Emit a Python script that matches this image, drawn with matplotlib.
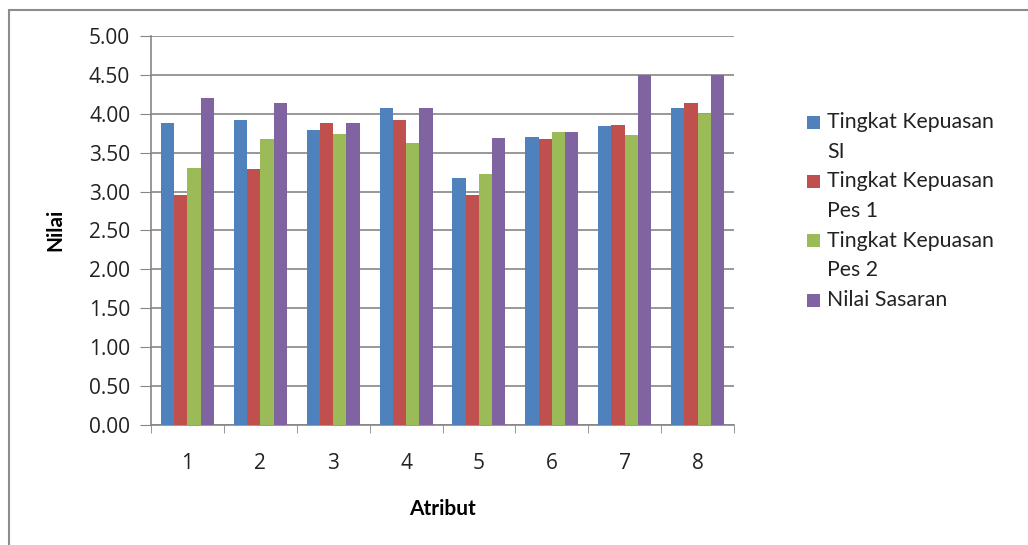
import matplotlib
matplotlib.use("Agg")
import matplotlib.pyplot as plt
import numpy as np
from matplotlib.patches import Rectangle

categories = ["1", "2", "3", "4", "5", "6", "7", "8"]
series_names = ["Tingkat Kepuasan\nSI", "Tingkat Kepuasan\nPes 1", "Tingkat Kepuasan\nPes 2", "Nilai Sasaran"]
kepuasan_si = [3.88, 3.92, 3.79, 4.08, 3.17, 3.70, 3.84, 4.07]
kepuasan_pes1 = [2.96, 3.29, 3.88, 3.92, 2.96, 3.67, 3.86, 4.14]
kepuasan_pes2 = [3.30, 3.67, 3.74, 3.62, 3.22, 3.76, 3.73, 4.00]
nilai_sasaran = [4.20, 4.14, 3.88, 4.08, 3.69, 3.76, 4.50, 4.50]
colors = ["#4F81BD", "#C0504D", "#9BBB59", "#8064A2"]
y_ticks = [0.0, 0.5, 1.0, 1.5, 2.0, 2.5, 3.0, 3.5, 4.0, 4.5, 5.0]

plt.rcParams['font.family'] = ['Lato', 'DejaVu Sans']
tick_font = 'Open Sans'
W, H = 1028, 545

fig = plt.figure(figsize=(W/100, H/100), dpi=100)
# outer chart frame
fig.patches.append(Rectangle((9/W, -0.1), 1.2, 1.1 - 10/H, transform=fig.transFigure,
                             fill=False, edgecolor="#8c8c8c", linewidth=1.5))

ax = fig.add_axes([151/W, 1-425/H, (734-151)/W, (425-36)/H])
series = [kepuasan_si, kepuasan_pes1, kepuasan_pes2, nilai_sasaran]
x = np.arange(len(categories))
bw = 1/5.5
for i, (vals, c) in enumerate(zip(series, colors)):
    ax.bar(x + (i - 1.5) * bw, vals, width=bw, color=c, zorder=3, linewidth=0)

ax.set_xlim(-0.5, len(categories) - 0.5)
ax.set_ylim(0, 5)
ax.set_yticks(y_ticks)
ax.set_yticklabels([f"{v:.2f}" for v in y_ticks], fontfamily=tick_font, color="#222222")
ax.yaxis.grid(True, color="#868686", linewidth=1.2, zorder=0)
ax.set_xticks(x)
ax.set_xticklabels(categories, fontfamily=tick_font, color="#222222")
ax.set_xticks(np.arange(-0.5, len(categories)), minor=True)
ax.tick_params(axis='x', which='major', length=0, pad=20, labelsize=15)
ax.tick_params(axis='x', which='minor', length=6, color="#868686", direction='out')
ax.tick_params(axis='y', length=8, color="#868686", labelsize=15, pad=7)
for s in ["top", "right"]:
    ax.spines[s].set_visible(False)
for s in ["left", "bottom"]:
    ax.spines[s].set_color("#868686")
    ax.spines[s].set_linewidth(1.2)

fig.text(55/W, 1-230/H, "Nilai", rotation=90, ha="center", va="center",
         fontsize=15, fontweight="bold")
ax.set_xlabel("Atribut", fontsize=15, fontweight="bold", labelpad=0)
ax.xaxis.set_label_coords(0.5, (425-509)/389, transform=ax.transAxes)
ax.xaxis.label.set_va("center")

# legend (manual layout to reproduce Excel line spacing)
line_h = 29.7
y_line = 122
for name, c in zip(series_names, colors):
    lines = name.split("\n")
    fig.patches.append(Rectangle((807/W, 1-(y_line+6.5)/H), 13/W, 13/H,
                                 transform=fig.transFigure, facecolor=c, edgecolor="none"))
    for ln in lines:
        fig.text(827/W, 1-y_line/H, ln, ha="left", va="center", fontsize=15.3, color="#222222")
        y_line += line_h

fig.savefig("out.png", dpi=100)
